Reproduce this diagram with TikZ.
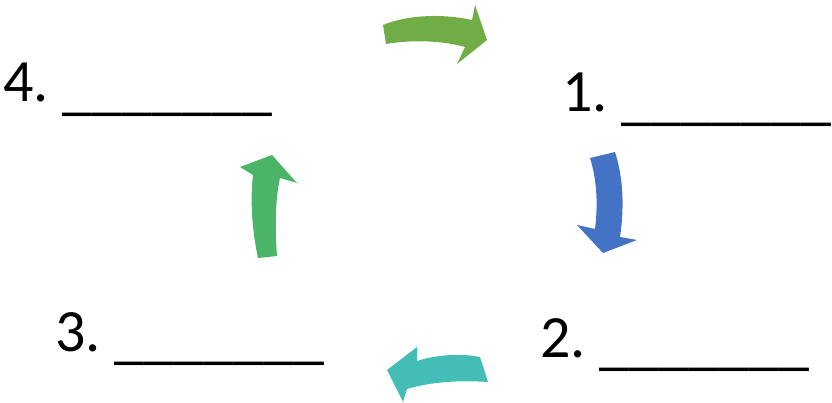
\documentclass[tikz,border=0pt]{standalone}
\usepackage{fontspec}
\setmainfont{Carlito}
\definecolor{arrowA}{HTML}{70AD47}
\definecolor{arrowB}{HTML}{4472C4}
\definecolor{arrowC}{HTML}{43BDB6}
\definecolor{arrowD}{HTML}{4BB466}
% a numbered step followed by a blank line to fill in
\newcommand{\stepblank}[1]{#1.\hspace{14pt}\raisebox{-6.5pt}{\_\_\_\_\_\_\_}}
\begin{document}
\begin{tikzpicture}[x=1pt,y=-1pt,
  blank/.style={anchor=base west,inner sep=0pt,font=\fontsize{60}{72}\selectfont}]
\path[use as bounding box] (0,0) rectangle (832,403);
\clip (0,0) rectangle (832,403);

% step labels with blanks to fill in
\node[blank] (s1) at (562,112) {\stepblank{1}};
\node[blank] (s2) at (540,357) {\stepblank{2}};
\node[blank] (s3) at (55,351)  {\stepblank{3}};
\node[blank] (s4) at (3,102)   {\stepblank{4}};

% curved block arrows between the steps
\fill[arrowA] (383,25) .. controls (410,14) and (445,14) .. (472,20)
  -- (475,5) -- (487,40) -- (457,64) -- (465,47)
  .. controls (440,40) and (410,40) .. (386,44) -- cycle;
\fill[arrowB] (590,158) -- (615,152) .. controls (624,180) and (624,210) .. (620,237)
  -- (637,240) -- (603,253) -- (577,225) -- (595,229)
  .. controls (598,205) and (597,180) .. (590,158) -- cycle;
\fill[arrowC] (480,357) .. controls (460,353) and (435,355) .. (417,361)
  -- (417,347) -- (387,370) -- (403,402) -- (407,389)
  .. controls (430,382) and (460,380) .. (488,382) -- cycle;
\fill[arrowD] (258,258) .. controls (252,230) and (250,200) .. (253,175)
  -- (240,167) -- (272,155) -- (297,183) -- (280,178)
  .. controls (275,200) and (275,230) .. (277,256) -- cycle;
\end{tikzpicture}
\end{document}
